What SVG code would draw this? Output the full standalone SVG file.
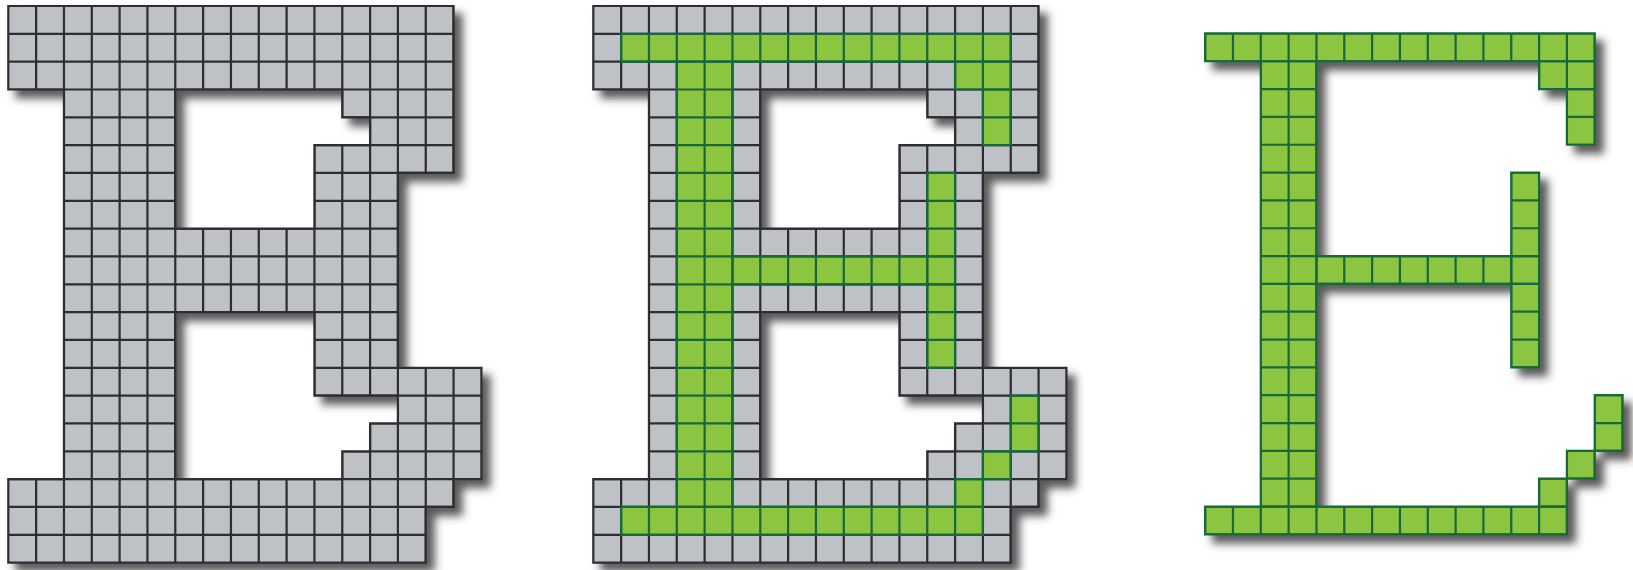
<svg xmlns="http://www.w3.org/2000/svg" width="1633" height="570" viewBox="0 0 1633 570">
<defs>
<style>
.grey{fill:#bec1c6}
.gline{fill:none;stroke:#2e2e30;stroke-width:0.08}
.green{fill:#8cc540}
.grline{fill:none;stroke:#17693a;stroke-width:0.08}
</style>
<filter id="sh" x="-5%" y="-5%" width="115%" height="115%">
<feDropShadow dx="8" dy="8" stdDeviation="4" flood-color="#333333" flood-opacity="0.8"/>
</filter>
<path id="bShape" fill-rule="evenodd" clip-rule="evenodd" d="M0 0H16V6H14V13H17V17H16V18H15V20H0V17H2V3H0Z M6 3H12V4H13V5H11V8H6Z M6 11H11V14H14V15H13V16H12V17H6Z"/>
<path id="gShape" d="M1 1h14v1h-14z M3 2h2v16h-2z M13 2h2v1h-2z M14 3h1v2h-1z M12 6h1v3h-1z M5 9h7v1h-7z M12 9h1v1h-1z M12 10h1v3h-1z M15 14h1v2h-1z M14 16h1v1h-1z M13 17h1v1h-1z M1 18h13v1h-13z"/>
<path id="grid" d="M0 1H17M0 2H17M0 3H17M0 4H17M0 5H17M0 6H17M0 7H17M0 8H17M0 9H17M0 10H17M0 11H17M0 12H17M0 13H17M0 14H17M0 15H17M0 16H17M0 17H17M0 18H17M0 19H17M1 0V20M2 0V20M3 0V20M4 0V20M5 0V20M6 0V20M7 0V20M8 0V20M9 0V20M10 0V20M11 0V20M12 0V20M13 0V20M14 0V20M15 0V20M16 0V20"/>
<clipPath id="bClip"><use href="#bShape"/></clipPath>
<clipPath id="gClip"><use href="#gShape"/></clipPath>
</defs>
<rect width="1633" height="570" fill="#ffffff"/>

<g id="letter-b-grey" filter="url(#sh)">
<g transform="translate(8.3 6) scale(27.83)">
<use href="#bShape" class="grey"/>
<use href="#grid" class="gline" clip-path="url(#bClip)"/>
<use href="#bShape" class="gline"/>
</g>
</g>

<g id="letter-b-skeleton" filter="url(#sh)">
<g transform="translate(593.3 6) scale(27.83)">
<use href="#bShape" class="grey"/>
<use href="#grid" class="gline" clip-path="url(#bClip)"/>
<use href="#bShape" class="gline"/>
<use href="#gShape" class="green"/>
<use href="#grid" class="grline" clip-path="url(#gClip)"/>
<use href="#gShape" class="grline"/>
</g>
</g>

<g id="letter-e-green" filter="url(#sh)">
<g transform="translate(1177.3 5.6) scale(27.83)">
<use href="#gShape" class="green"/>
<use href="#grid" class="grline" clip-path="url(#gClip)"/>
<use href="#gShape" class="grline"/>
</g>
</g>
</svg>
